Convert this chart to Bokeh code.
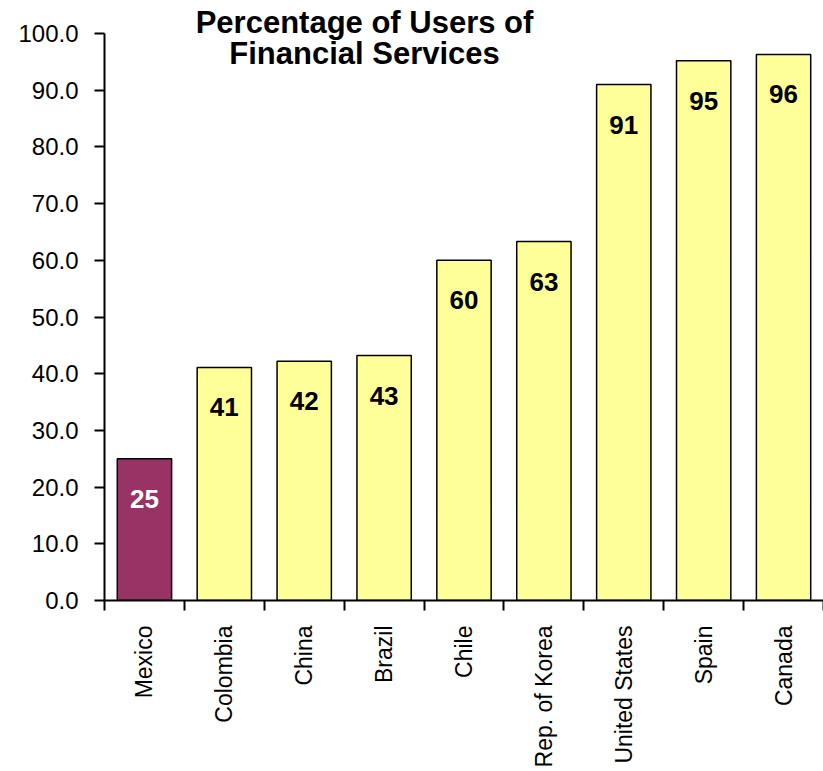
import math
import numpy as np
from bokeh.plotting import figure
from bokeh.models import (Range1d, LinearAxis, FixedTicker,
                          SingleIntervalTicker, NumeralTickFormatter,
                          ColumnDataSource, Label)
from bokeh.core.properties import value
from bokeh.embed import file_html
from bokeh.resources import INLINE

# ---- data ----
countries = ["Mexico", "Colombia", "China", "Brazil", "Chile",
             "Rep. of Korea", "United States", "Spain", "Canada"]
percentages = [25.0, 41.1, 42.2, 43.2, 60.0, 63.3, 91.0, 95.2, 96.3]
bar_labels = ["25", "41", "42", "43", "60", "63", "91", "95", "96"]
highlight = "Mexico"
title_lines = ["Percentage of Users of", "Financial Services"]
y_axis_max = 100

# ---- styles / layout ----
SANS = "Liberation Sans"
HL_COLOR = "#993366"
BAR_COLOR = "#FFFF99"
FRAME_H = 600          # frame covers the title area too
TOP_PAD = 33           # pixels above the 100 tick used by the title
y_end = y_axis_max * FRAME_H / (FRAME_H - TOP_PAD)

n = len(countries)
centers = (np.arange(n) + 0.5).tolist()
bounds = list(range(n + 1))
fills = [HL_COLOR if c == highlight else BAR_COLOR for c in countries]
txt_colors = ["white" if c == highlight else "black" for c in countries]

src = ColumnDataSource(dict(x=centers, pct=percentages, lab=bar_labels,
                            fill=fills, tcol=txt_colors))

p = figure(x_range=Range1d(0, n), y_range=Range1d(0, y_end),
           frame_width=719, frame_height=FRAME_H,
           output_backend="svg", toolbar_location=None,
           x_axis_location=None, y_axis_location=None,
           min_border_left=104, min_border_right=0, min_border_top=0,
           min_border_bottom=0)
p.outline_line_color = None
p.xgrid.visible = False
p.ygrid.visible = False
p.background_fill_color = "white"
p.border_fill_color = "white"

p.vbar(x="x", top="pct", width=0.68, source=src,
       fill_color="fill", line_color="black", line_width=1.5)

p.text(x="x", y="pct", text="lab", source=src,
       text_color="tcol", text_font=value(SANS), text_font_style="bold",
       text_font_size="26px", text_align="center", text_baseline="middle",
       y_offset=40)

# y axis (only 0..100)
yax = LinearAxis(ticker=SingleIntervalTicker(interval=10, num_minor_ticks=0),
                 formatter=NumeralTickFormatter(format="0.0"),
                 bounds=(0, y_axis_max))
yax.major_tick_out = 10
yax.major_tick_in = 0
yax.minor_tick_line_color = None
yax.axis_line_width = 2
yax.major_tick_line_width = 2
yax.major_label_standoff = 16
yax.major_label_text_font = SANS
yax.major_label_text_font_size = "24px"
yax.major_label_text_color = "black"
p.add_layout(yax, "left")

# x axis: labels at bar centres, tick marks at category boundaries
xax = LinearAxis(ticker=FixedTicker(ticks=centers, minor_ticks=bounds),
                 major_label_overrides={c: name for c, name in zip(centers, countries)})
xax.axis_line_width = 2
xax.major_tick_line_color = None
xax.major_tick_out = 0
xax.major_tick_in = 0
xax.minor_tick_out = 10
xax.minor_tick_in = 0
xax.minor_tick_line_width = 2
xax.minor_tick_line_color = "black"
xax.major_label_orientation = math.pi / 2
xax.major_label_standoff = 15
xax.major_label_text_font = SANS
xax.major_label_text_font_size = "23px"
xax.major_label_text_color = "black"
p.add_layout(xax, "below")

# title (two lines)
for i, line in enumerate(title_lines):
    p.add_layout(Label(x=260, y=578 - 31 * i, x_units="screen", y_units="screen",
                       text=line, text_font=SANS, text_font_style="bold",
                       text_font_size="31px", text_align="center",
                       text_baseline="middle", text_color="black"))

open("out.html", "w").write(file_html(p, INLINE))
